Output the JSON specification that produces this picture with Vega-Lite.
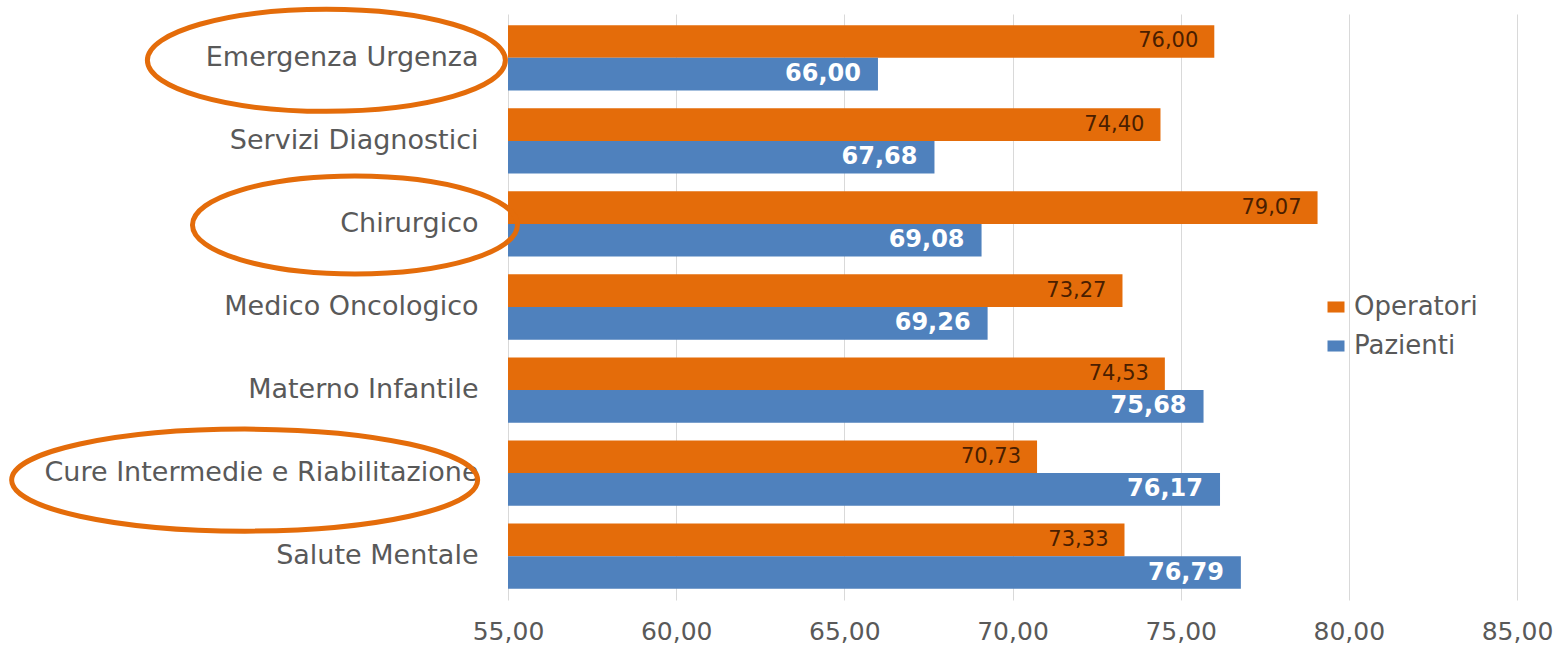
{
  "$schema": "https://vega.github.io/schema/vega-lite/v6.json",
  "width": 1009,
  "height": 586,
  "autosize": "none",
  "padding": {"left": 508, "top": 14, "right": 45, "bottom": 46},
  "background": "white",
  "config": {
    "locale": {"number": {"decimal": ",", "thousands": ".", "grouping": [3], "currency": ["€", ""]}},
    "view": {"stroke": null},
    "font": "DejaVu Sans"
  },
  "data": {
    "values": [
      {"category": "Emergenza Urgenza", "series": "Operatori", "value": 76.00},
      {"category": "Emergenza Urgenza", "series": "Pazienti", "value": 66.00},
      {"category": "Servizi Diagnostici", "series": "Operatori", "value": 74.40},
      {"category": "Servizi Diagnostici", "series": "Pazienti", "value": 67.68},
      {"category": "Chirurgico", "series": "Operatori", "value": 79.07},
      {"category": "Chirurgico", "series": "Pazienti", "value": 69.08},
      {"category": "Medico Oncologico", "series": "Operatori", "value": 73.27},
      {"category": "Medico Oncologico", "series": "Pazienti", "value": 69.26},
      {"category": "Materno Infantile", "series": "Operatori", "value": 74.53},
      {"category": "Materno Infantile", "series": "Pazienti", "value": 75.68},
      {"category": "Cure Intermedie e Riabilitazione", "series": "Operatori", "value": 70.73},
      {"category": "Cure Intermedie e Riabilitazione", "series": "Pazienti", "value": 76.17},
      {"category": "Salute Mentale", "series": "Operatori", "value": 73.33},
      {"category": "Salute Mentale", "series": "Pazienti", "value": 76.79}
    ]
  },
  "encoding": {
    "y": {
      "field": "category",
      "type": "nominal",
      "sort": ["Emergenza Urgenza", "Servizi Diagnostici", "Chirurgico", "Medico Oncologico", "Materno Infantile", "Cure Intermedie e Riabilitazione", "Salute Mentale"],
      "scale": {"paddingInner": 0.213, "paddingOuter": 0.134},
      "axis": {
        "title": null,
        "domain": false,
        "ticks": false,
        "tickSize": 0,
        "labelPadding": 30,
        "labelLimit": 0,
        "labelFont": "DejaVu Sans",
        "labelFontSize": 27,
        "labelColor": "#595959"
      }
    }
  },
  "layer": [
    {
      "mark": {"type": "bar"},
      "encoding": {
        "x": {
          "field": "value",
          "type": "quantitative",
          "scale": {"domain": [55, 85], "zero": false, "nice": false},
          "axis": {
            "title": null,
            "values": [55, 60, 65, 70, 75, 80, 85],
            "format": ".2f",
            "domain": false,
            "ticks": false,
            "tickSize": 0,
            "grid": true,
            "gridColor": "#D9D9D9",
            "gridWidth": 1,
            "labelFlush": false,
            "labelPadding": 19,
            "labelFont": "DejaVu Sans",
            "labelFontSize": 25,
            "labelColor": "#595959"
          }
        },
        "x2": {"datum": 55},
        "yOffset": {"field": "series", "type": "nominal", "sort": ["Operatori", "Pazienti"], "scale": {"paddingInner": 0, "paddingOuter": 0}},
        "color": {
          "field": "series",
          "type": "nominal",
          "scale": {"domain": ["Operatori", "Pazienti"], "range": ["#E46C0A", "#4F81BD"]},
          "legend": {
            "title": null,
            "orient": "none",
            "legendX": 815,
            "legendY": 280,
            "padding": 0,
            "offset": 0,
            "rowPadding": 13,
            "labelOffset": 5,
            "labelFont": "DejaVu Sans",
            "labelFontSize": 26,
            "labelColor": "#595959",
            "symbolType": "M-1,-0.65H1V0.65H-1Z",
            "symbolSize": 289,
            "symbolStrokeWidth": 0
          }
        }
      }
    },
    {
      "transform": [{"filter": "datum.series === 'Operatori'"}],
      "mark": {"type": "text", "align": "right", "baseline": "middle", "dx": -16, "font": "DejaVu Sans", "fontSize": 21, "color": "#4A1E00"},
      "encoding": {
        "x": {"field": "value", "type": "quantitative"},
        "yOffset": {"field": "series", "type": "nominal", "sort": ["Operatori", "Pazienti"]},
        "text": {"field": "value", "type": "quantitative", "format": ".2f"}
      }
    },
    {
      "transform": [{"filter": "datum.series === 'Pazienti'"}],
      "mark": {"type": "text", "align": "right", "baseline": "middle", "dx": -17, "font": "DejaVu Sans", "fontWeight": "bold", "fontSize": 24, "color": "white"},
      "encoding": {
        "x": {"field": "value", "type": "quantitative"},
        "yOffset": {"field": "series", "type": "nominal", "sort": ["Operatori", "Pazienti"]},
        "text": {"field": "value", "type": "quantitative", "format": ".2f"}
      }
    },
    {
      "transform": [{"filter": "datum.category === 'Emergenza Urgenza' && datum.series === 'Operatori'"}],
      "mark": {
        "type": "point",
        "filled": false,
        "opacity": 1,
        "clip": false,
        "stroke": "#E46C0A",
        "strokeWidth": 5,
        "yOffset": 2.5,
        "size": 128164,
        "shape": "M-1,0C-1,-0.1574,-0.5523,-0.285,0,-0.285C0.5523,-0.285,1,-0.1574,1,0C1,0.1574,0.5523,0.285,0,0.285C-0.5523,0.285,-1,0.1574,-1,0Z"
      },
      "encoding": {
        "x": {"datum": 49.6, "type": "quantitative"}
      }
    },
    {
      "transform": [{"filter": "datum.category === 'Chirurgico' && datum.series === 'Operatori'"}],
      "mark": {
        "type": "point",
        "filled": false,
        "opacity": 1,
        "clip": false,
        "stroke": "#E46C0A",
        "strokeWidth": 5,
        "yOffset": 1,
        "size": 105625,
        "shape": "M-1,0C-1,-0.1665,-0.5523,-0.3015,0,-0.3015C0.5523,-0.3015,1,-0.1665,1,0C1,0.1665,0.5523,0.3015,0,0.3015C-0.5523,0.3015,-1,0.1665,-1,0Z"
      },
      "encoding": {
        "x": {"datum": 50.45, "type": "quantitative"}
      }
    },
    {
      "transform": [{"filter": "datum.category === 'Cure Intermedie e Riabilitazione' && datum.series === 'Operatori'"}],
      "mark": {
        "type": "point",
        "filled": false,
        "opacity": 1,
        "clip": false,
        "stroke": "#E46C0A",
        "strokeWidth": 5,
        "yOffset": 7,
        "size": 217156,
        "shape": "M-1,0C-1,-0.1209,-0.5523,-0.219,0,-0.219C0.5523,-0.219,1,-0.1209,1,0C1,0.1209,0.5523,0.219,0,0.219C-0.5523,0.219,-1,0.1209,-1,0Z"
      },
      "encoding": {
        "x": {"datum": 47.17, "type": "quantitative"}
      }
    }
  ]
}
